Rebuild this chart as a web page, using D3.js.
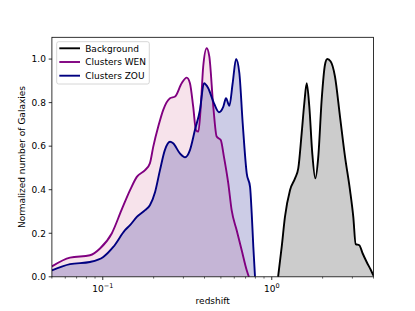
<!DOCTYPE html>
<html>
<head>
<meta charset="utf-8">
<script src="https://cdn.jsdelivr.net/npm/d3@7"></script>
<style>
  body { margin: 0; background: #fff; }
  svg { font-family: "DejaVu Sans", sans-serif; }
</style>
</head>
<body>
<div id="chart"></div>
<script>
// redshift / normalized counts
const wenZ = [0.05, 0.064, 0.084, 0.0963, 0.113, 0.129, 0.145, 0.159, 0.178, 0.19, 0.199, 0.213,
  0.228, 0.25, 0.268, 0.293, 0.314, 0.328, 0.343, 0.356, 0.368, 0.38, 0.393, 0.412, 0.427,
  0.451, 0.472, 0.499, 0.521, 0.553, 0.579, 0.62, 0.664, 0.711, 0.727, 0.735];
const wenN = [0.048, 0.088, 0.099, 0.13, 0.199, 0.306, 0.398, 0.459, 0.49, 0.521, 0.598, 0.69,
  0.767, 0.82, 0.828, 0.889, 0.915, 0.889, 0.78, 0.674, 0.667, 0.78, 0.966, 1.05, 1.012,
  0.78, 0.644, 0.628, 0.552, 0.429, 0.306, 0.214, 0.122, 0.03, 0.007, 0];

const zouZ = [0.05, 0.064, 0.084, 0.1007, 0.1154, 0.1354, 0.145, 0.159, 0.178, 0.19, 0.204, 0.218,
  0.233, 0.25, 0.261, 0.286, 0.307, 0.328, 0.351, 0.376, 0.397, 0.421, 0.451, 0.487, 0.517,
  0.536, 0.561, 0.587, 0.615, 0.643, 0.673, 0.711, 0.744, 0.761, 0.778, 0.796];
const zouN = [0.03, 0.058, 0.068, 0.091, 0.137, 0.214, 0.237, 0.275, 0.306, 0.329, 0.39, 0.49,
  0.582, 0.62, 0.613, 0.567, 0.549, 0.582, 0.674, 0.767, 0.889, 0.866, 0.805, 0.756, 0.782,
  0.82, 0.785, 0.889, 1.0, 0.936, 0.705, 0.475, 0.413, 0.291, 0.137, 0];

const bgZ = [1.09, 1.145, 1.197, 1.282, 1.373, 1.435, 1.503, 1.558, 1.61, 1.668, 1.737, 1.81,
  1.885, 1.974, 2.065, 2.131, 2.232, 2.366, 2.534, 2.713, 2.904, 3.037, 3.138, 3.296, 3.452,
  3.645, 3.865, 4.0];
const bgN = [0, 0.137, 0.275, 0.398, 0.452, 0.498, 0.659, 0.797, 0.889, 0.782, 0.567, 0.452,
  0.552, 0.813, 0.974, 1.0, 0.989, 0.92, 0.736, 0.552, 0.398, 0.275, 0.15, 0.145, 0.107,
  0.068, 0.03, 0.005];

const yTicks = [0, 0.2, 0.4, 0.6, 0.8, 1.0];
const xTicks = [0.1, 1];
const xMinor = [0.05, 0.06, 0.07, 0.08, 0.09, 0.2, 0.3, 0.4, 0.5, 0.6, 0.7, 0.8, 0.9, 2, 3, 4];

const series = [
  { name: "Background", z: bgZ, n: bgN, line: "#000000", fill: "rgba(0,0,0,0.2)" },
  { name: "Clusters WEN", z: wenZ, n: wenN, line: "#800080", fill: "rgba(240,200,215,0.5)" },
  { name: "Clusters ZOU", z: zouZ, n: zouN, line: "#000080", fill: "rgba(0,0,128,0.2)" }
];

const W = 415, H = 311;
const margin = { left: 51.9, right: 415 - 373.5, top: 37.3, bottom: 311 - 276.8 };

const svg = d3.select("#chart").append("svg")
  .attr("width", W).attr("height", H);

const x = d3.scaleLog().domain([0.05, 4.0]).range([margin.left, W - margin.right]);
const y = d3.scaleLinear().domain([0, 1.1]).range([H - margin.bottom, margin.top]);

svg.append("clipPath").attr("id", "clip")
  .append("rect")
  .attr("x", margin.left).attr("y", margin.top)
  .attr("width", W - margin.left - margin.right)
  .attr("height", H - margin.top - margin.bottom);

const plot = svg.append("g").attr("clip-path", "url(#clip)");

const area = d3.area()
  .x(d => x(d[0])).y0(y(0)).y1(d => y(d[1]))
  .curve(d3.curveMonotoneX);
const line = d3.line()
  .x(d => x(d[0])).y(d => y(d[1]))
  .curve(d3.curveMonotoneX);

series.forEach(s => {
  const pts = s.z.map((z, i) => [z, s.n[i]]);
  plot.append("path").attr("d", area(pts)).attr("fill", s.fill);
});
series.forEach(s => {
  const pts = s.z.map((z, i) => [z, s.n[i]]);
  plot.append("path").attr("d", line(pts))
    .attr("fill", "none").attr("stroke", s.line)
    .attr("stroke-width", 1.9).attr("stroke-linejoin", "round");
});

// axes frame
svg.append("rect")
  .attr("x", margin.left).attr("y", margin.top)
  .attr("width", W - margin.left - margin.right)
  .attr("height", H - margin.top - margin.bottom)
  .attr("fill", "none").attr("stroke", "#000").attr("stroke-width", 0.8);

// y axis
const yAxis = svg.append("g");
yTicks.forEach(t => {
  yAxis.append("line")
    .attr("x1", margin.left - 3.2).attr("x2", margin.left)
    .attr("y1", y(t)).attr("y2", y(t))
    .attr("stroke", "#000").attr("stroke-width", 0.8);
  yAxis.append("text")
    .attr("x", margin.left - 6).attr("y", y(t) + 3.3)
    .attr("text-anchor", "end").attr("font-size", 9)
    .text(t.toFixed(1));
});

// x axis
const xAxis = svg.append("g");
const yb = H - margin.bottom;
xMinor.forEach(t => {
  xAxis.append("line")
    .attr("x1", x(t)).attr("x2", x(t))
    .attr("y1", yb).attr("y2", yb + 1.8)
    .attr("stroke", "#000").attr("stroke-width", 0.6);
});
xTicks.forEach(t => {
  xAxis.append("line")
    .attr("x1", x(t)).attr("x2", x(t))
    .attr("y1", yb).attr("y2", yb + 3.2)
    .attr("stroke", "#000").attr("stroke-width", 0.8);
  const txt = xAxis.append("text")
    .attr("x", x(t)).attr("y", yb + 15)
    .attr("text-anchor", "middle").attr("font-size", 9);
  txt.append("tspan").text("10");
  txt.append("tspan").attr("dy", -3.5).attr("font-size", 6.5)
    .text(t === 1 ? "0" : "\u22121");
});

svg.append("text")
  .attr("x", (margin.left + W - margin.right) / 2).attr("y", 304)
  .attr("text-anchor", "middle").attr("font-size", 9)
  .text("redshift");

svg.append("text")
  .attr("transform", `translate(25,${(margin.top + H - margin.bottom) / 2}) rotate(-90)`)
  .attr("text-anchor", "middle").attr("font-size", 9)
  .text("Normalized number of Galaxies");

// legend
const leg = svg.append("g").attr("transform", "translate(56.7,41.7)");
leg.append("rect")
  .attr("width", 92.6).attr("height", 42.3).attr("rx", 2)
  .attr("fill", "rgba(255,255,255,0.8)").attr("stroke", "#cccccc").attr("stroke-width", 0.8);
series.forEach((s, i) => {
  const ly = 6.6 + i * 13.7;
  leg.append("line")
    .attr("x1", 2.6).attr("x2", 23.3).attr("y1", ly).attr("y2", ly)
    .attr("stroke", s.line).attr("stroke-width", 1.9);
  leg.append("text")
    .attr("x", 28.5).attr("y", ly + 3.3).attr("font-size", 9)
    .text(s.name);
});
</script>
</body>
</html>
